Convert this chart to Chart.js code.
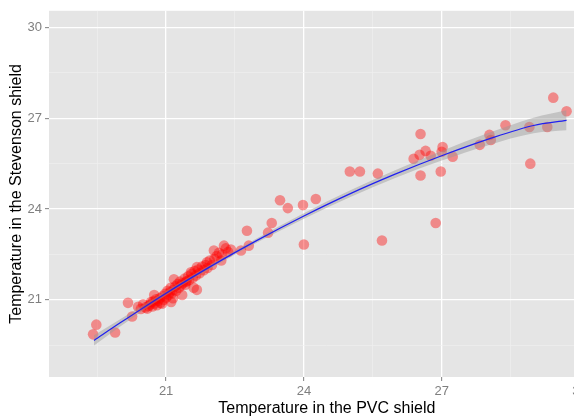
<!DOCTYPE html>
<html>
<head>
<meta charset="utf-8">
<script src="https://cdn.jsdelivr.net/npm/chart.js@4.4.0/dist/chart.umd.min.js"></script>
<style>
  html, body { margin: 0; padding: 0; background: #fff; overflow: hidden; }
  #wrap { width: 610px; height: 419px; }
</style>
</head>
<body>
<div id="wrap"><canvas id="chart" width="610" height="419"></canvas></div>
<script>
// scatter: PVC shield temperature (x) vs Stevenson shield temperature (y)
const pvcTemp = [
  19.48, 19.41, 19.89, 20.17, 20.26, 20.39, 20.59, 20.67, 20.74, 20.91,
  21.11, 21.17, 21.35, 21.43, 21.67, 21.54, 21.67, 21.89, 22.04, 22.26,
  22.20, 22.41, 22.63, 22.76, 22.80, 23.22, 23.30, 23.48, 23.65, 24.00,
  23.98, 24.26, 25.00, 25.22, 25.61, 25.70, 26.87, 26.39, 26.52, 26.65,
  26.76, 26.54, 26.54, 27.00, 27.02, 26.98, 27.24, 27.83, 28.04, 28.07,
  28.39, 28.91, 28.93, 29.30, 29.43, 29.72,
  20.62, 20.66, 20.70, 20.72, 20.75, 20.78, 20.80, 20.83, 20.86, 20.88,
  20.92, 20.95, 20.98, 21.00, 21.03, 21.05, 21.08, 21.10, 21.13, 21.16,
  21.20, 21.22, 21.25, 21.28, 21.30, 21.33, 21.36, 21.40, 21.42, 21.45,
  21.48, 21.50, 21.55, 21.58, 21.62, 21.65, 21.70, 21.73, 21.78, 21.82,
  21.86, 21.90, 21.95, 22.00, 22.05, 22.10, 22.15, 22.22, 22.30, 22.35,
  20.55, 20.50, 20.45, 21.15, 21.60
];
const stevensonTemp = [
  20.18, 19.86, 19.92, 20.90, 20.45, 20.77, 20.71, 20.93, 21.16, 20.87,
  20.93, 21.68, 21.16, 21.59, 21.33, 21.91, 22.08, 22.24, 22.63, 22.79,
  22.30, 22.66, 22.63, 23.28, 22.79, 23.22, 23.54, 24.29, 24.03, 22.83,
  24.13, 24.33, 25.24, 25.24, 25.17, 22.96, 23.54, 25.66, 25.79, 25.92,
  25.76, 26.48, 25.11, 25.89, 26.05, 25.24, 25.73, 26.12, 26.45, 26.28,
  26.77, 26.71, 25.50, 26.71, 27.68, 27.23,
  20.80, 20.85, 20.78, 20.95, 20.88, 21.02, 20.82, 20.97, 21.05, 20.90,
  21.12, 21.00, 21.20, 21.08, 21.30, 21.15, 21.25, 21.40, 21.22, 21.33,
  21.45, 21.30, 21.52, 21.40, 21.60, 21.48, 21.55, 21.70, 21.50, 21.62,
  21.78, 21.65, 21.85, 21.72, 21.95, 21.80, 22.00, 21.88, 22.10, 21.98,
  22.15, 22.05, 22.30, 22.15, 22.35, 22.45, 22.55, 22.50, 22.70, 22.58,
  20.75, 20.85, 20.70, 21.05, 21.40
];

// smoothed fit, with its confidence band
const smoothX     = [19.43, 20.0, 21.0, 22.0, 23.0, 24.0, 25.0, 26.0, 27.0, 28.0, 29.0, 29.72];
const smoothY     = [19.66, 20.24, 21.22, 22.13, 22.98, 23.77, 24.50, 25.16, 25.76, 26.30, 26.76, 26.93];
const smoothLower = [19.49, 20.12, 21.14, 22.06, 22.91, 23.68, 24.39, 25.03, 25.60, 26.10, 26.50, 26.60];
const smoothUpper = [19.83, 20.36, 21.30, 22.20, 23.05, 23.86, 24.61, 25.29, 25.92, 26.50, 27.02, 27.26];

// ggplot-style breaks: labelled majors every 3, unlabelled minors in between
const axisBreaks = [19.5, 21, 22.5, 24, 25.5, 27, 28.5, 30];
const majorBreaks = [21, 24, 27, 30];

const isMajor = v => majorBreaks.includes(v);

const panelBg = {
  id: "panelBg",
  beforeDraw(chart) {
    const { ctx, chartArea: a } = chart;
    ctx.save();
    ctx.fillStyle = "#E5E5E5";
    ctx.fillRect(a.left, a.top, a.right - a.left, a.bottom - a.top);
    ctx.restore();
  }
};

function axisOpts(title, min, max, isY) {
  return {
    type: "linear",
    min: min,
    max: max,
    afterBuildTicks: scale => { scale.ticks = axisBreaks.map(v => ({ value: v })); },
    afterFit: scale => {
      if (isY) scale.width = 49; else scale.height = 42;
    },
    border: { display: false },
    grid: {
      color: ctx => isMajor(ctx.tick && ctx.tick.value) ? "#FFFFFF" : "#F0F0F0",
      lineWidth: ctx => isMajor(ctx.tick && ctx.tick.value) ? 1.3 : 0.6,
      tickColor: ctx => isMajor(ctx.tick && ctx.tick.value) ? "#7F7F7F" : "rgba(0,0,0,0)",
      tickLength: 4,
      tickWidth: 1
    },
    ticks: {
      autoSkip: false,
      maxRotation: 0,
      padding: 3,
      color: "#7F7F7F",
      font: { family: "Liberation Sans", size: 13 },
      callback: v => isMajor(v) ? String(v) : ""
    },
    title: {
      display: true,
      text: title,
      color: "#000000",
      font: { family: "Liberation Sans", size: 16 },
      padding: isY ? { top: 7, bottom: 0 } : { top: 0, bottom: 1 }
    }
  };
}

const ctx = document.getElementById("chart").getContext("2d");
new Chart(ctx, {
  type: "scatter",
  data: {
    datasets: [
      {
        type: "line",
        label: "fit",
        data: smoothX.map((x, i) => ({ x: x, y: smoothY[i] })),
        borderColor: "#2020F0",
        borderWidth: 1.2,
        pointRadius: 0,
        cubicInterpolationMode: "monotone",
        fill: false,
        order: 0
      },
      {
        type: "line",
        label: "lower",
        data: smoothX.map((x, i) => ({ x: x, y: smoothLower[i] })),
        borderWidth: 0,
        borderColor: "rgba(0,0,0,0)",
        pointRadius: 0,
        cubicInterpolationMode: "monotone",
        fill: false,
        order: 1
      },
      {
        type: "line",
        label: "upper",
        data: smoothX.map((x, i) => ({ x: x, y: smoothUpper[i] })),
        borderWidth: 0,
        borderColor: "rgba(0,0,0,0)",
        backgroundColor: "rgba(153,153,153,0.45)",
        pointRadius: 0,
        cubicInterpolationMode: "monotone",
        fill: "-1",
        order: 2
      },
      {
        label: "obs",
        data: pvcTemp.map((x, i) => ({ x: x, y: stevensonTemp[i] })),
        backgroundColor: "rgba(255,0,0,0.4)",
        borderWidth: 0,
        pointRadius: 5.3,
        order: 3
      }
    ]
  },
  options: {
    responsive: false,
    animation: false,
    layout: { padding: { left: 0, top: 5, right: 4, bottom: 0 } },
    plugins: {
      legend: { display: false },
      tooltip: { enabled: false }
    },
    scales: {
      x: axisOpts("Temperature in the PVC shield", 18.45, 30.55, false),
      y: axisOpts("Temperature in the Stevenson shield", 18.45, 30.55, true)
    }
  },
  plugins: [panelBg]
});
</script>
</body>
</html>
